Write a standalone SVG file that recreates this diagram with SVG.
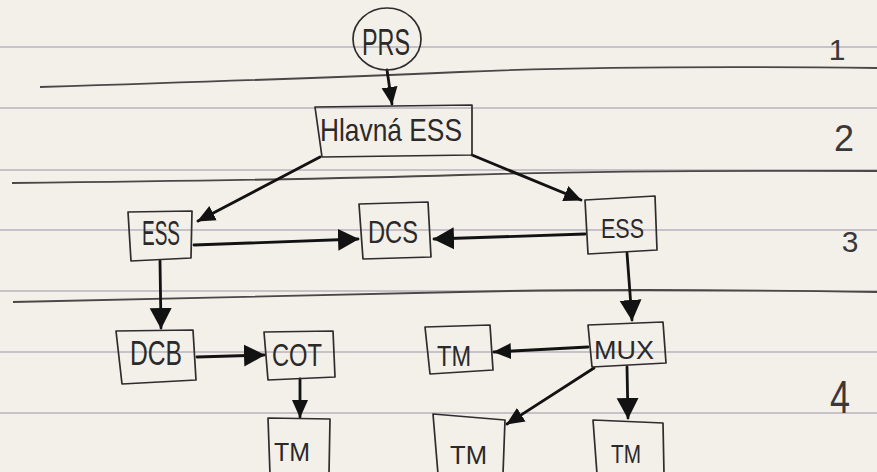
<svg xmlns="http://www.w3.org/2000/svg" width="877" height="472" viewBox="0 0 877 472">
<style>
.rule{stroke:#b9b3bd;stroke-width:1.6;fill:none}
.hand{stroke:#4a4747;stroke-width:1.8;fill:none}
.box{fill:none;stroke:#2e2c2c;stroke-width:1.7;stroke-linejoin:round}
.lbl{font-family:"Liberation Sans",Arial,sans-serif;fill:#2b2929;text-anchor:start}
.num{font-family:"Liberation Sans",Arial,sans-serif;fill:#3a3838;text-anchor:middle}
.edge{stroke:#121212;stroke-width:2.8;fill:none;stroke-linecap:round}
</style>
<defs>
<marker id="ah" markerUnits="userSpaceOnUse" markerWidth="22" markerHeight="24" refX="20" refY="12" orient="auto" viewBox="0 0 22 24">
<path d="M0,1 L21,12 L0,23 z" fill="#121212"/>
</marker>
<marker id="ahs" markerUnits="userSpaceOnUse" markerWidth="18" markerHeight="18" refX="17" refY="9" orient="auto" viewBox="0 0 18 18">
<path d="M0,1 L18,9 L0,17 z" fill="#121212"/>
</marker>
</defs>
<rect x="0" y="0" width="877" height="472" fill="#f3f0ea"/>
<g id="paper">
<line class="rule" x1="0" y1="47" x2="877" y2="47"/>
<line class="rule" x1="0" y1="108" x2="877" y2="108"/>
<line class="rule" x1="0" y1="170" x2="877" y2="170"/>
<line class="rule" x1="0" y1="230" x2="877" y2="230"/>
<line class="rule" x1="0" y1="291" x2="877" y2="291"/>
<line class="rule" x1="0" y1="352" x2="877" y2="352"/>
<line class="rule" x1="0" y1="413" x2="877" y2="413"/>
<path class="hand" d="M40,87 Q300,79 460,72 T877,68"/>
<path class="hand" d="M12,183 Q300,180 460,175 T877,171"/>
<path class="hand" d="M13,302 Q300,296 460,292 T877,292"/>
</g>
<g id="connectors">
<line class="edge" x1="387" y1="70" x2="392" y2="104" marker-end="url(#ahs)"/>
<line class="edge" x1="320" y1="157" x2="198" y2="221" marker-end="url(#ahs)"/>
<line class="edge" x1="472" y1="155" x2="581" y2="200" marker-end="url(#ahs)"/>
<line class="edge" x1="194" y1="245" x2="358" y2="239" marker-end="url(#ah)"/>
<line class="edge" x1="585" y1="234" x2="434" y2="239" marker-end="url(#ah)"/>
<line class="edge" x1="160" y1="261" x2="161" y2="328" marker-end="url(#ah)"/>
<line class="edge" x1="627" y1="253" x2="632" y2="320" marker-end="url(#ah)"/>
<line class="edge" x1="197" y1="357" x2="264" y2="355" marker-end="url(#ah)"/>
<line class="edge" x1="300" y1="379" x2="300" y2="417" marker-end="url(#ahs)"/>
<line class="edge" x1="588" y1="347" x2="494" y2="352" marker-end="url(#ahs)"/>
<line class="edge" x1="594" y1="368" x2="507" y2="424" marker-end="url(#ahs)"/>
<line class="edge" x1="627" y1="367" x2="628" y2="418" marker-end="url(#ah)"/>
</g>
<g id="n-prs">
<ellipse class="box" cx="387" cy="39" rx="34" ry="31"/>
<text class="lbl" x="362" y="55" font-size="36" textLength="48" lengthAdjust="spacingAndGlyphs">PRS</text>
</g>
<g id="n-hlavna">
<path class="box" d="M315,107 L472,105 L472,155 L322,157 Z"/>
<text class="lbl" x="320" y="141" font-size="32" textLength="142" lengthAdjust="spacingAndGlyphs">Hlavná ESS</text>
</g>
<g id="n-ess-left">
<path class="box" d="M128,212 L192,211 L191,258 L131,261 Z"/>
<text class="lbl" x="142" y="245" font-size="35" textLength="38" lengthAdjust="spacingAndGlyphs">ESS</text>
</g>
<g id="n-dcs">
<path class="box" d="M359,204 L428,202 L431,257 L363,259 Z"/>
<text class="lbl" x="368" y="243" font-size="32" textLength="50" lengthAdjust="spacingAndGlyphs">DCS</text>
</g>
<g id="n-ess-right">
<path class="box" d="M585,200 L655,196 L657,250 L588,254 Z"/>
<text class="lbl" x="601" y="238" font-size="28" textLength="43" lengthAdjust="spacingAndGlyphs">ESS</text>
</g>
<g id="n-dcb">
<path class="box" d="M116,331 L193,330 L196,380 L122,384 Z"/>
<text class="lbl" x="130" y="365" font-size="35" textLength="52" lengthAdjust="spacingAndGlyphs">DCB</text>
</g>
<g id="n-cot">
<path class="box" d="M264,332 L333,331 L335,377 L268,380 Z"/>
<text class="lbl" x="272" y="366" font-size="32" textLength="50" lengthAdjust="spacingAndGlyphs">COT</text>
</g>
<g id="n-tm-mid">
<path class="box" d="M425,327 L490,325 L493,370 L430,374 Z"/>
<text class="lbl" x="437" y="366" font-size="30" textLength="34" lengthAdjust="spacingAndGlyphs">TM</text>
</g>
<g id="n-mux">
<path class="box" d="M588,325 L663,322 L666,363 L592,367 Z"/>
<text class="lbl" x="594" y="359" font-size="26" textLength="60" lengthAdjust="spacingAndGlyphs">MUX</text>
</g>
<g id="n-tm-cot">
<path class="box" d="M268,418 L330,419 L329,474 L270,474 Z"/>
<text class="lbl" x="274" y="461" font-size="26" textLength="36" lengthAdjust="spacingAndGlyphs">TM</text>
</g>
<g id="n-tm-low">
<path class="box" d="M433,414 L505,420 L503,474 L438,474 Z"/>
<text class="lbl" x="450" y="464" font-size="26" textLength="37" lengthAdjust="spacingAndGlyphs">TM</text>
</g>
<g id="n-tm-right">
<path class="box" d="M593,420 L663,423 L664,474 L597,474 Z"/>
<text class="lbl" x="611" y="463" font-size="26" textLength="30" lengthAdjust="spacingAndGlyphs">TM</text>
</g>
<g id="levels">
<text class="num" x="837" y="60" font-size="30">1</text>
<text class="num" x="844" y="151" font-size="36">2</text>
<text class="num" x="850" y="252" font-size="30">3</text>
<text class="num" x="840" y="413" font-size="46" textLength="20" lengthAdjust="spacingAndGlyphs">4</text>
</g>
</svg>
